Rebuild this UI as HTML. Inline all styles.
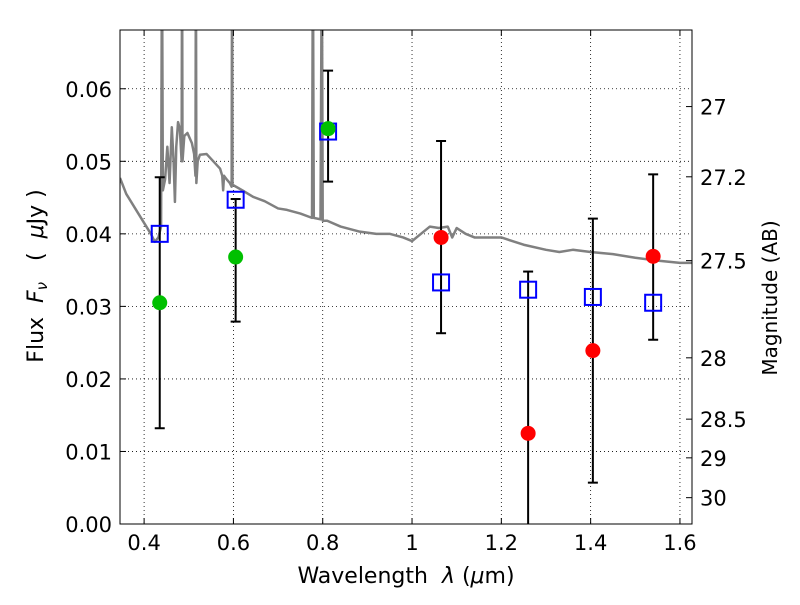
<!DOCTYPE html>
<html><head><meta charset="utf-8"><style>
body{margin:0;background:#fff;}
svg text{font-family:"DejaVu Sans","Liberation Sans",sans-serif;}
</style></head><body>
<svg id="chart" width="800" height="600" xmlns="http://www.w3.org/2000/svg">
<rect x="0" y="0" width="800" height="600" fill="#fff"/>
<g id="grid"></g>
<g id="spec"></g>
<g id="marks"></g>
<rect x="120" y="30" width="572" height="494" fill="none" stroke="#000" stroke-width="1"/>
<g id="axes"></g>
<text x="406" y="583" font-size="22" text-anchor="middle" xml:space="preserve">Wavelength  <tspan font-style="italic">λ</tspan> (<tspan font-style="italic">μ</tspan>m)</text>
<text transform="translate(43,276) rotate(-90)" font-size="22" text-anchor="middle" xml:space="preserve">Flux  <tspan font-style="italic">F<tspan font-size="15" dy="4">ν</tspan></tspan><tspan dy="-4">   (  </tspan><tspan font-style="italic">μ</tspan>Jy )</text>
<text transform="translate(777,298) rotate(-90)" font-size="20" text-anchor="middle">Magnitude (AB)</text>
</svg>
<script>
const NS="http://www.w3.org/2000/svg";
const xTicks=[0.4,0.6,0.8,1.0,1.2,1.4,1.6];
const xTickLabels=["0.4","0.6","0.8","1","1.2","1.4","1.6"];
const yTicks=[0,0.01,0.02,0.03,0.04,0.05,0.06];
const yTickLabels=["0.00","0.01","0.02","0.03","0.04","0.05","0.06"];
const magTicks=[27,27.2,27.5,28,28.5,29,30];
const magLabels=["27","27.2","27.5","28","28.5","29","30"];
const wave=[0.435,0.605,0.812,1.065,1.26,1.405,1.54];
const fluxObs=[0.0305,0.0368,0.0545,0.0395,0.0125,0.0239,0.0369];
const errLo=[0.0132,0.0279,0.0472,0.0263,-0.002,0.0057,0.0254];
const errHi=[0.0478,0.0448,0.0625,0.0528,0.0348,0.0421,0.0482];
const obsColor=["#00c000","#00c000","#00c000","red","red","red","red"];
const fluxModel=[0.0400,0.0447,0.0541,0.0333,0.0323,0.0313,0.0305];
const specWave=[0.346,0.36,0.38,0.40,0.415,0.424,0.432,0.438,0.440,0.442,0.447,0.452,0.457,0.462,0.466,0.469,0.472,0.476,0.480,0.484,0.485,0.486,0.49,0.497,0.507,0.512,0.515,0.516,0.517,0.52,0.525,0.54,0.555,0.57,0.575,0.577,0.579,0.585,0.592,0.596,0.597,0.598,0.60,0.62,0.644,0.67,0.70,0.72,0.75,0.776,0.778,0.780,0.795,0.798,0.800,0.81,0.84,0.883,0.92,0.95,0.98,1.0,1.02,1.04,1.06,1.08,1.09,1.10,1.12,1.14,1.16,1.2,1.25,1.3,1.33,1.36,1.4,1.45,1.5,1.55,1.6,1.627];
const specFlux=[0.0477,0.0455,0.0435,0.0415,0.040,0.0389,0.0395,0.041,0.08,0.046,0.0475,0.052,0.047,0.0547,0.050,0.0444,0.052,0.0554,0.0545,0.050,0.08,0.050,0.0535,0.0539,0.0525,0.051,0.048,0.08,0.047,0.050,0.0509,0.051,0.050,0.049,0.048,0.046,0.048,0.0475,0.047,0.0465,0.08,0.0467,0.0467,0.046,0.0451,0.0445,0.0435,0.0433,0.0428,0.0422,0.08,0.0422,0.042,0.08,0.0418,0.0418,0.041,0.0403,0.040,0.040,0.0395,0.039,0.040,0.041,0.0408,0.041,0.0395,0.0408,0.040,0.0395,0.0395,0.0395,0.0385,0.0378,0.0375,0.0378,0.0375,0.0372,0.0367,0.0363,0.036,0.036];
const X0=0.346,X1=1.627,Y0=0,Y1=0.0681;
const L=120,R=692,T=30,B=524;
const sx=v=>L+(v-X0)/(X1-X0)*(R-L);
const sy=v=>B-(v-Y0)/(Y1-Y0)*(B-T);
const magToFlux=m=>Math.pow(10,(23.9-m)/2.5);
function el(tag,attrs,parent){const e=document.createElementNS(NS,tag);for(const k in attrs)e.setAttribute(k,attrs[k]);parent.appendChild(e);return e;}
const grid=document.getElementById('grid'),axes=document.getElementById('axes'),spec=document.getElementById('spec'),marks=document.getElementById('marks');
xTicks.forEach((t,i)=>{const x=sx(t);
 const g=el('line',{x1:x,x2:x,y1:T,y2:B,stroke:'#000','stroke-dasharray':'1,3','stroke-width':0.8},grid);
 
 el('line',{x1:x,x2:x,y1:B,y2:B-6,stroke:'#000'},axes);el('line',{x1:x,x2:x,y1:T,y2:T+6,stroke:'#000'},axes);
 const tx=el('text',{x:x,y:B+26,'font-size':21,'text-anchor':'middle'},axes);tx.textContent=xTickLabels[i];
 });
yTicks.forEach((t,i)=>{const y=sy(t);
 const g=el('line',{x1:L,x2:R,y1:y,y2:y,stroke:'#000','stroke-dasharray':'1,3','stroke-width':0.8},grid);
 
 el('line',{x1:L,x2:L+6,y1:y,y2:y,stroke:'#000'},axes);
 const tx=el('text',{x:L-8,y:y+8,'font-size':21,'text-anchor':'end'},axes);tx.textContent=yTickLabels[i];
 });
magTicks.forEach((m,i)=>{const y=sy(magToFlux(m));
 el('line',{x1:R,x2:R-6,y1:y,y2:y,stroke:'#000'},axes);
 const tx=el('text',{x:R+8,y:y+8,'font-size':21},axes);tx.textContent=magLabels[i];
 });
const defs=el('defs',{},spec);const cp=el('clipPath',{id:'clip'},defs);el('rect',{x:L,y:T,width:R-L,height:B-T},cp);
const pl=el('polyline',{points:specWave.map((w,i)=>sx(w)+','+sy(specFlux[i])).join(' '),fill:'none',stroke:'#808080','stroke-width':2.5,'stroke-linejoin':'round','clip-path':'url(#clip)'},spec);

wave.forEach((w,i)=>{const x=sx(w);
 const g=el('g',{'clip-path':'url(#clip)'},marks);
 const e=el('line',{x1:x,x2:x,y1:sy(errLo[i]),y2:sy(errHi[i]),stroke:'#000','stroke-width':2},g);
 
 el('line',{x1:x-5,x2:x+5,y1:sy(errLo[i]),y2:sy(errLo[i]),stroke:'#000','stroke-width':2},g);
 el('line',{x1:x-5,x2:x+5,y1:sy(errHi[i]),y2:sy(errHi[i]),stroke:'#000','stroke-width':2},g);
 const s=el('rect',{x:x-8,y:sy(fluxModel[i])-8,width:16,height:16,fill:'none',stroke:'#0000ff','stroke-width':2},marks);
 
 const c=el('circle',{cx:x,cy:sy(fluxObs[i]),r:7.5,fill:obsColor[i]},marks);
 });
</script>
</body></html>
